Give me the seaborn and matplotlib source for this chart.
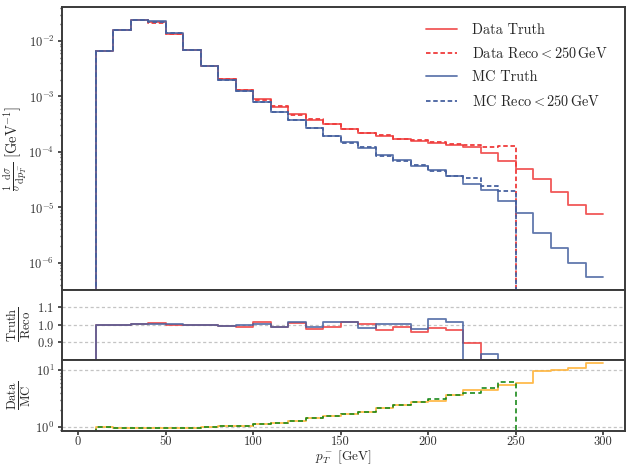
import matplotlib
matplotlib.use("Agg")
import matplotlib.pyplot as plt
import seaborn as sns
from matplotlib.ticker import LogLocator, NullFormatter, FixedLocator, FormatStrFormatter

# ---------------- data ----------------
bin_edges = list(range(10, 310, 10))          # 10 ... 300 GeV

data_truth = [6.60e-3, 1.58e-2, 2.39e-2, 2.16e-2, 1.355e-2, 6.88e-3, 3.58e-3, 2.06e-3,
              1.305e-3, 8.87e-4, 6.52e-4, 4.75e-4, 3.75e-4, 3.13e-4, 2.58e-4, 2.18e-4,
              1.95e-4, 1.72e-4, 1.585e-4, 1.46e-4, 1.343e-4, 1.205e-4, 9.4e-5, 6.9e-5,
              4.83e-5, 3.23e-5, 1.905e-5, 1.11e-5, 7.45e-6]
data_reco = [6.61e-3, 1.583e-2, 2.385e-2, 2.143e-2, 1.355e-2, 6.91e-3, 3.59e-3, 2.077e-3,
             1.318e-3, 8.74e-4, 6.62e-4, 4.71e-4, 3.85e-4, 3.18e-4, 2.54e-4, 2.176e-4,
             2.004e-4, 1.737e-4, 1.654e-4, 1.491e-4, 1.387e-4, 1.34e-4, 1.237e-4, 1.277e-4]
mc_truth = [6.60e-3, 1.58e-2, 2.44e-2, 2.25e-2, 1.377e-2, 6.88e-3, 3.58e-3, 1.97e-3,
            1.252e-3, 7.93e-4, 5.16e-4, 3.75e-4, 2.69e-4, 1.95e-4, 1.484e-4, 1.186e-4,
            8.65e-5, 7.03e-5, 5.66e-5, 4.69e-5, 3.74e-5, 2.62e-5, 2.04e-5, 1.278e-5,
            7.96e-6, 3.38e-6, 1.835e-6, 9.84e-7, 5.66e-7]
mc_reco = [6.61e-3, 1.583e-2, 2.43e-2, 2.237e-2, 1.369e-2, 6.91e-3, 3.59e-3, 1.986e-3,
           1.257e-3, 7.88e-4, 5.24e-4, 3.69e-4, 2.73e-4, 1.921e-4, 1.462e-4, 1.209e-4,
           8.6e-5, 6.99e-5, 5.79e-5, 4.55e-5, 3.68e-5, 3.45e-5, 2.45e-5, 2.0e-5]

ratio_data_truth_reco = [0.998, 0.998, 1.002, 1.008, 1.0, 0.996, 0.996, 0.992, 0.99, 1.015,
                         0.985, 1.008, 0.975, 0.985, 1.015, 1.002, 0.973, 0.99, 0.958,
                         0.979, 0.968, 0.899, 0.76, 0.54]
ratio_mc_truth_reco = [0.998, 0.998, 1.004, 1.006, 1.006, 0.996, 0.996, 0.992, 0.996, 1.006,
                       0.985, 1.015, 0.985, 1.015, 1.015, 0.981, 1.006, 1.006, 0.977,
                       1.030, 1.015, 0.76, 0.832, 0.64]

ratio_truth_data_mc = [1.0, 0.99, 0.98, 0.97, 0.98, 0.99, 1.03, 1.04, 1.07, 1.15, 1.21, 1.28,
                       1.43, 1.56, 1.70, 1.82, 2.20, 2.44, 2.76, 2.92, 3.67, 4.49, 4.49,
                       5.44, 5.83, 9.5, 10.1, 11.0, 13.1]
ratio_reco_data_mc = [1.0, 0.99, 0.98, 0.97, 0.98, 0.99, 1.03, 1.04, 1.07, 1.15, 1.21, 1.28,
                      1.43, 1.56, 1.70, 1.82, 2.20, 2.44, 2.76, 3.08, 3.67, 3.93, 4.81, 6.22]

labels = ["Data Truth", r"Data Reco$<$250$\,$GeV",
          "MC Truth", r"MC Reco$<$250$\,$GeV"]
x_ticks = [0, 50, 100, 150, 200, 250, 300]

# ---------------- style ----------------
sns.set_theme(style="ticks")
plt.rcParams.update({
    "font.family": ["cmr10", "DejaVu Serif"],
    "mathtext.fontset": "cm",
    "axes.formatter.use_mathtext": True,
    "axes.unicode_minus": False,
    "axes.edgecolor": "#3a3a3a",
    "axes.linewidth": 1.4,
    "xtick.color": "#3a3a3a",
    "ytick.color": "#3a3a3a",
    "xtick.labelcolor": "#333333",
    "ytick.labelcolor": "#333333",
    "xtick.major.size": 3.0,
    "ytick.major.size": 3.0,
    "xtick.major.pad": 0.6,
    "ytick.major.pad": 2.5,
    "ytick.minor.size": 1.8,
})

RED = "#ef3b3b"
BLUE = "#46619f"
ORANGE = "#ffb338"
GREEN = "#1b8a1b"


def step_line(ax, values, close_right=False, **kw):
    n = len(values)
    xs = [bin_edges[0]] + bin_edges[:n] + [bin_edges[n]]
    ys = [0.0] + list(values) + [values[-1]]
    if close_right:
        xs.append(bin_edges[n])
        ys.append(0.0)
    sns.lineplot(x=xs, y=ys, ax=ax, estimator=None, sort=False,
                 drawstyle="steps-post", **kw)


fig = plt.figure(figsize=(6.26, 4.66), dpi=100)
L, R = 62 / 626, 625 / 626
H = 466
ax1 = fig.add_axes([L, 1 - 289.5 / H, R - L, (289.5 - 6.7) / H])
ax2 = fig.add_axes([L, 1 - 360 / H, R - L, (360 - 289.5) / H], sharex=ax1)
ax3 = fig.add_axes([L, 1 - 431 / H, R - L, (431 - 360) / H], sharex=ax1)

# top panel
step_line(ax1, data_truth, color=RED, lw=1.3, alpha=0.85, label=labels[0])
step_line(ax1, data_reco, close_right=True, color=RED, lw=1.3, linestyle=(0, (2.5, 1.5)),
          label=labels[1])
step_line(ax1, mc_truth, color=BLUE, lw=1.3, alpha=0.85, label=labels[2])
step_line(ax1, mc_reco, close_right=True, color=BLUE, lw=1.3, linestyle=(0, (2.5, 1.5)),
          label=labels[3])
ax1.set_yscale("log")
ax1.set_ylim(3.3e-7, 4.16e-2)
ax1.set_xlim(-9.2, 312.4)
ax1.set_ylabel(r"$\frac{1}{\sigma}\frac{\mathrm{d}\sigma}{\mathrm{d}p_T^-}\;[\mathrm{GeV}^{-1}]$",
               fontsize=10.5)
ax1.yaxis.set_major_locator(LogLocator(base=10, numticks=10))
ax1.yaxis.set_minor_locator(LogLocator(base=10, subs=range(2, 10), numticks=20))
ax1.yaxis.set_minor_formatter(NullFormatter())
ax1.tick_params(axis="x", bottom=False, labelbottom=False)
ax1.tick_params(axis="y", labelsize=9)
ax1.set_xlabel("")
ax1.legend(loc="upper left", bbox_to_anchor=(0.6465, 0.942), borderaxespad=0,
           borderpad=0, frameon=False, fontsize=10.3, handlelength=2.2,
           handletextpad=1.05, labelspacing=0.66)

# middle panel
step_line(ax2, ratio_data_truth_reco, color=RED, lw=1.3, alpha=0.85)
step_line(ax2, ratio_mc_truth_reco, color=BLUE, lw=1.3, alpha=0.85)
ax2.set_ylim(0.8, 1.2)
ax2.yaxis.set_major_locator(FixedLocator([0.9, 1.0, 1.1]))
ax2.yaxis.set_major_formatter(FormatStrFormatter(r"$%.1f$"))
ax2.grid(axis="y", linestyle=(0, (2.5, 2)), color="#c4c4c4", lw=0.9)
ax2.set_ylabel(r"$\frac{\mathrm{Truth}}{\mathrm{Reco}}$", fontsize=13)
ax2.tick_params(axis="x", bottom=False, labelbottom=False)
ax2.tick_params(axis="y", labelsize=9)
ax2.set_xlabel("")

# bottom panel
step_line(ax3, ratio_truth_data_mc, color=ORANGE, lw=1.3, alpha=0.9)
step_line(ax3, ratio_reco_data_mc, close_right=True, color=GREEN, lw=1.2,
          linestyle=(0, (3, 2)))
ax3.set_yscale("log")
ax3.set_ylim(0.86, 15)
ax3.yaxis.set_major_locator(FixedLocator([1, 10]))
ax3.yaxis.set_minor_locator(LogLocator(base=10, subs=range(2, 10), numticks=20))
ax3.yaxis.set_minor_formatter(NullFormatter())
ax3.grid(axis="y", which="major", linestyle=(0, (2.5, 2)), color="#c4c4c4", lw=0.9)
ax3.set_ylabel(r"$\frac{\mathrm{Data}}{\mathrm{MC}}$", fontsize=13)
ax3.set_xlabel(r"$p_T^-\;[\mathrm{GeV}]$", fontsize=9.6)
ax3.xaxis.set_major_locator(FixedLocator(x_ticks))
ax3.xaxis.set_major_formatter(FormatStrFormatter("%d"))
ax3.tick_params(axis="both", labelsize=9)

ax1.yaxis.set_label_coords(-0.058, 0.5)
ax2.yaxis.set_label_coords(-0.051, 0.5)
ax3.yaxis.set_label_coords(-0.051, 0.5)
ax3.xaxis.set_label_coords(0.5, -0.25)

fig.savefig("out.png", dpi=100)
